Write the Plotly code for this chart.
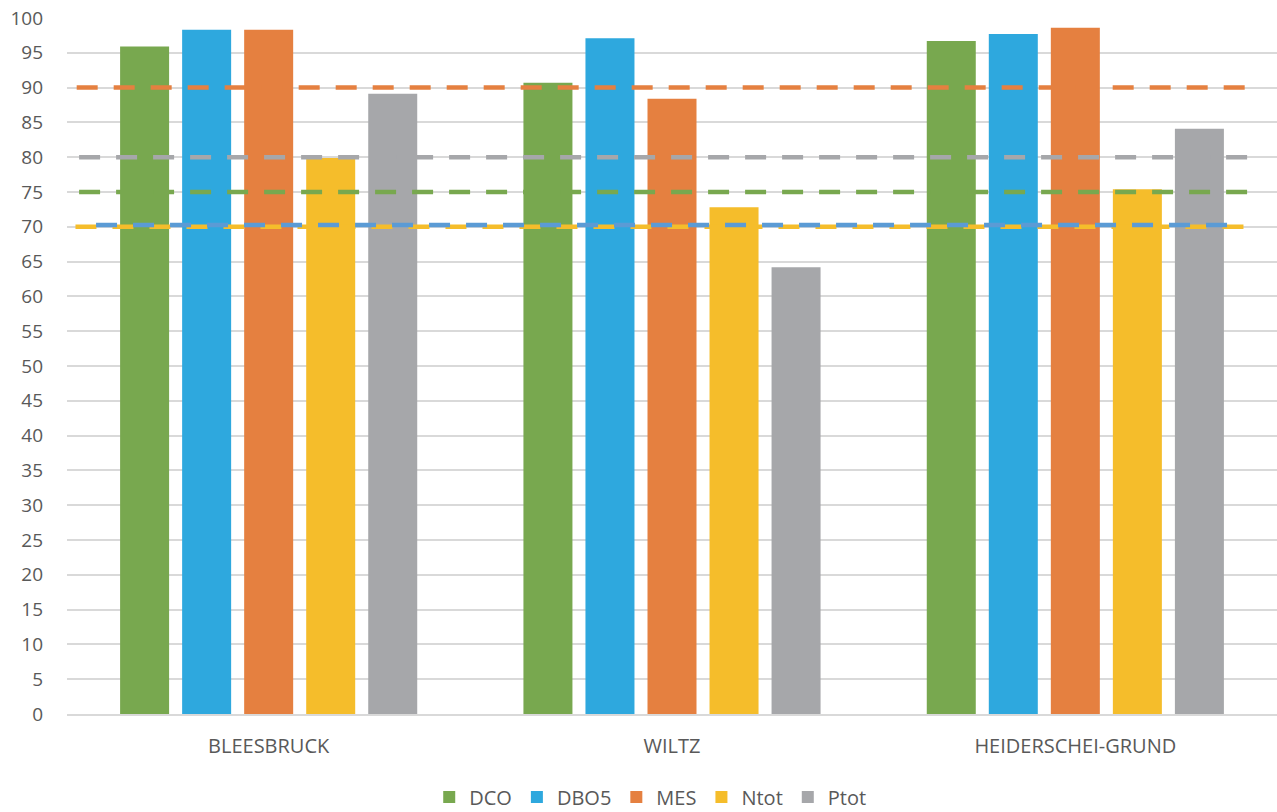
import plotly.graph_objects as go

categories = ["BLEESBRUCK", "WILTZ", "HEIDERSCHEI-GRUND"]
series_names = ["DCO", "DBO5", "MES", "Ntot", "Ptot"]
dco = [95.9, 90.7, 96.7]
dbo5 = [98.3, 97.1, 97.7]
mes = [98.3, 88.4, 98.6]
ntot = [79.9, 72.8, 75.4]
ptot = [89.1, 64.2, 84.1]

# threshold (reference) levels per parameter
threshold_names = ["MES", "Ptot", "DCO", "Ntot", "DBO5"]
threshold_values = [90, 80, 75, 70, 70.25]

y_ticks = list(range(0, 101, 5))

colors = {
    "DCO": "#78A84F",
    "DBO5": "#2EA8DE",
    "MES": "#E58040",
    "Ntot": "#F5BD2B",
    "Ptot": "#A6A7AA",
}
line_colors = {
    "MES": "#E58040",
    "Ptot": "#A6A7AA",
    "DCO": "#78A84F",
    "Ntot": "#F5BD2B",
    "DBO5": "#5B9BD5",
}
line_extent = {
    "MES": (0.008, 0.983),
    "Ptot": (0.010, 0.983),
    "DCO": (0.010, 0.980),
    "Ntot": (0.007, 0.976),
    "DBO5": (0.024, 0.968),
}

values = [dco, dbo5, mes, ntot, ptot]
font_color = "#595959"
FONT = "Open Sans"

fig = go.Figure()
for name, vals in zip(series_names, values):
    fig.add_trace(go.Bar(
        x=categories, y=vals, name=name,
        marker=dict(color=colors[name], line=dict(width=0)),
    ))

for name, val in zip(threshold_names, threshold_values):
    x0, x1 = line_extent[name]
    fig.add_shape(
        type="line", xref="x domain", yref="y",
        x0=x0, x1=x1, y0=val, y1=val,
        line=dict(color=line_colors[name], width=4.5, dash="21px,16px"),
        layer="above",
    )

fig.update_layout(
    width=1277, height=812,
    margin=dict(l=67, r=0, t=18, b=98, autoexpand=False),
    paper_bgcolor="white", plot_bgcolor="white",
    barmode="group", bargap=0.231, bargroupgap=0.21,
    font=dict(family=FONT, color=font_color, size=18),
    showlegend=True,
    legend=dict(
        orientation="h", x=0.482, xanchor="center",
        yref="container", y=0.0185, yanchor="middle",
        font=dict(size=20, color=font_color), itemwidth=30,
        traceorder="normal",
    ),
)
fig.update_xaxes(
    showgrid=False, showline=True, linecolor="#D9D9D9", linewidth=2,
    ticks="", ticklabelstandoff=13, tickfont=dict(size=20),
)
fig.update_yaxes(
    range=[0, 100], tickvals=y_ticks, showgrid=True, gridcolor="#D9D9D9",
    gridwidth=1.5, zeroline=False, showline=False, ticks="",
    ticklabelstandoff=23, tickfont=dict(size=19), ticklabeloverflow="allow",
)

fig.write_html(
    "out.html",
    config={"displayModeBar": False},
    post_script="document.body.style.margin='0';document.body.style.overflow='hidden';",
)
